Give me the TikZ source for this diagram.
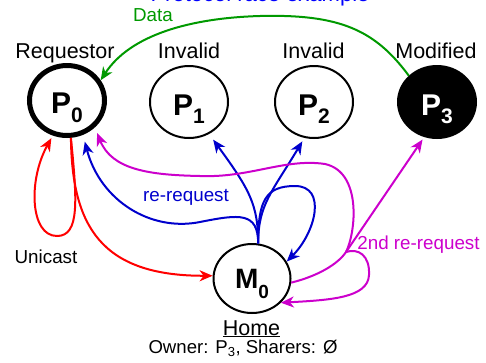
\documentclass[tikz,border=0pt]{standalone}
\usepackage{fontspec}
\setmainfont{Liberation Sans}
\usetikzlibrary{arrows.meta,shapes.geometric}

\definecolor{unired}{RGB}{255,0,0}
\definecolor{reqblue}{RGB}{0,0,204}
\definecolor{datagreen}{RGB}{0,153,0}
\definecolor{secondpurple}{RGB}{204,0,204}
\definecolor{titleblue}{RGB}{0,0,255}

\newcommand{\procname}[2]{{\fontsize{30}{30}\selectfont\bfseries #1\raisebox{-8.5pt}{\fontsize{21}{21}\selectfont #2}}}
\newcommand{\homename}[2]{{\fontsize{28}{28}\selectfont\bfseries #1\raisebox{-10pt}{\fontsize{19}{19}\selectfont #2}}}

\begin{document}
\begin{tikzpicture}[x=1pt,y=-1pt,
  proc/.style={draw, ellipse, line width=2pt, inner sep=0pt,
    minimum width=78pt, minimum height=72pt, text height=30pt, text depth=3.4pt},
  statelabel/.style={anchor=base, font=\fontsize{21.5}{21.5}\selectfont},
  edgelabel/.style={anchor=base, font=\fontsize{18.8}{18.8}\selectfont},
  msg/.style={line width=2pt, -{Stealth[length=13pt,width=11pt,inset=4pt]}},
  plain/.style={line width=2pt}
]
\useasboundingbox (0,0) rectangle (486,362);

% title, running off the top edge
\node[anchor=base, text=titleblue, font=\fontsize{22}{22}\selectfont] (title) at (260,1.5) {Protocol race example};

% processors
\node[proc, line width=5pt, minimum width=75pt, minimum height=70pt] (P0) at (67,100.5) {\procname{P}{0}};
\node[proc] (P1) at (189,102) {\procname{P}{1}};
\node[proc] (P2) at (314,102) {\procname{P}{2}};
\node[proc, fill=black, text=white] (P3) at (437,102) {\procname{P}{3}};

% home memory
\node[proc, minimum width=77pt, minimum height=69pt, text height=28pt, text depth=7.4pt] (M0) at (252,278.5) {\homename{M}{0}};

% state labels
\node[statelabel] (lreq) at (65,58) {Requestor};
\node[statelabel] (linv1) at (189,58) {Invalid};
\node[statelabel] (linv2) at (313.5,58) {Invalid};
\node[statelabel] (lmod) at (436,58) {Modified};

\node[statelabel] (lhome) at (251.5,335) {\underline{Home}};
\node[edgelabel, font=\fontsize{18.6}{18.6}\selectfont] (lowner) at (243,353) {Owner: P\textsubscript{3}, Sharers: Ø};

% data reply from the owner
\draw[msg, datagreen] (P3.137) .. controls (375,30) and (340,14) .. (260,16)
  .. controls (190,18) and (130,35) .. (P0.31);
\node[edgelabel, text=datagreen] (ldata) at (153,21.7) {Data};

% unicast request
\draw[msg, unired] (P0.-84) .. controls (72,225) and (100,276) .. (M0.176);
\draw[msg, unired, shorten >=3pt] (P0.-84) .. controls (77,200) and (80,236) .. (57,236)
  .. controls (30,236) and (28,180) .. (P0.-112);
\node[edgelabel] (luni) at (46,263.3) {Unicast};

% re-requests from home
\draw[msg, reqblue, shorten >=7pt] (M0.80) .. controls (258,205) and (250,190) .. (P1.-58);
\draw[msg, reqblue, shorten >=4pt] (M0.80) .. controls (258,205) and (272,192) .. (P2.-105);
\draw[msg, reqblue] (M0.80) .. controls (258,200) and (266,186) .. (295,186)
  .. controls (327,186) and (316,232) .. (M0.26);
\draw[msg, reqblue, shorten >=7pt] (M0.80) .. controls (258,212) and (240,214) .. (200,222)
  .. controls (150,232) and (100,200) .. (P0.-65);
\node[edgelabel, text=reqblue] (lrereq) at (186,201) {re-request};

% second re-request
\coordinate (J) at (346,252);
\draw[plain, secondpurple] (M0.-6) .. controls (318,276) and (338,264) .. (J);
\draw[msg, secondpurple, shorten >=6pt] (J) .. controls (356,232) and (362,172) .. (325,164)
  .. controls (285,158) and (250,178) .. (200,176)
  .. controls (150,175) and (112,170) .. (P0.-44);
\draw[msg, secondpurple, shorten >=3pt] (J) -- (P3.-110);
\draw[msg, secondpurple] (J) .. controls (358,248) and (370,255) .. (369,275)
  .. controls (368,298) and (330,300) .. (M0.-40);
\node[edgelabel, text=secondpurple] (l2nd) at (418.5,249.3) {2nd re-request};
\end{tikzpicture}
\end{document}
